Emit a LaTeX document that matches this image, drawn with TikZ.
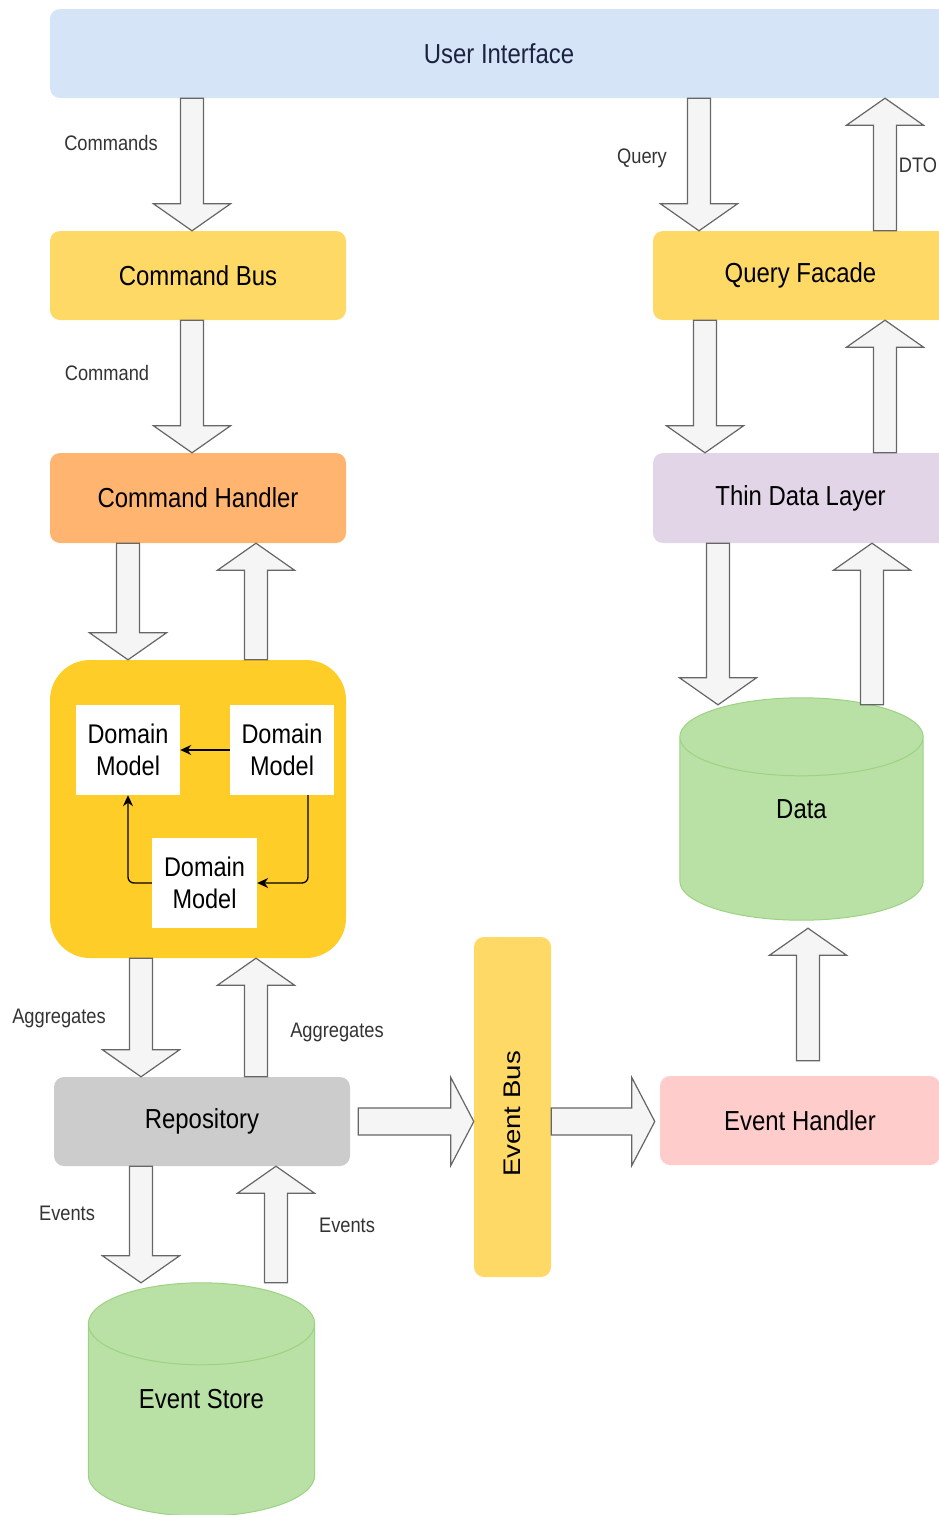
\documentclass[tikz,border=0pt]{standalone}
\usepackage{fontspec}
\setmainfont{Liberation Sans}[FakeStretch=0.87]
\newfontfamily\busfont{Liberation Sans}[FakeStretch=1.15]
\usepackage{graphicx}
\usepackage{tikz}
\usetikzlibrary{arrows.meta,calc,backgrounds}

\definecolor{uiblue}{HTML}{D6E4F7}
\definecolor{uitext}{HTML}{1C2340}
\definecolor{busyellow}{HTML}{FFD966}
\definecolor{handlerorange}{HTML}{FFB570}
\definecolor{layerpurple}{HTML}{E1D5E7}
\definecolor{domainyellow}{HTML}{FFCD28}
\definecolor{repogray}{HTML}{CCCCCC}
\definecolor{eventpink}{HTML}{FFCCCC}
\definecolor{dbgreen}{HTML}{B9E0A5}
\definecolor{dbline}{HTML}{9CD382}
\definecolor{fatfill}{HTML}{F5F5F5}
\definecolor{fatline}{HTML}{666666}
\definecolor{labelgray}{HTML}{333333}

\tikzset{
  box/.style={rounded corners=10pt, inner sep=0pt, font=\fontsize{27.5}{33}\selectfont},
  model/.style={fill=white, minimum width=104pt, minimum height=90pt, align=center, inner sep=0pt, font=\fontsize{27}{32}\selectfont},
  lbl/.style={text=labelgray, font=\fontsize{21}{25}\selectfont},
  fat/.style={draw=fatline, fill=fatfill, line width=1.2pt, line join=miter},
  thinarr/.style={draw=black, line width=1.3pt, rounded corners=6pt, -{Stealth[length=11pt,width=10pt]}},
  db/.style={draw=dbline, fill=dbgreen, line width=1pt}
}

% block arrows, vertical and horizontal
\newcommand{\vfat}[2]{%
  \draw[fat] let \p1=(#1), \p2=(#2), \n1={(\y2-\y1)/abs(\y2-\y1)} in
    ({\x1-11.5pt},\y1) -- ({\x1-11.5pt},{\y2-(\n1)*27pt}) -- ({\x1-38.5pt},{\y2-(\n1)*27pt})
    -- (\x1,\y2) -- ({\x1+38.5pt},{\y2-(\n1)*27pt}) -- ({\x1+11.5pt},{\y2-(\n1)*27pt})
    -- ({\x1+11.5pt},\y1) -- cycle;}
\newcommand{\hfat}[2]{%
  \draw[fat] let \p1=(#1), \p2=(#2), \n1={(\x2-\x1)/abs(\x2-\x1)} in
    (\x1,{\y1+13.5pt}) -- ({\x2-(\n1)*23pt},{\y1+13.5pt}) -- ({\x2-(\n1)*23pt},{\y1+44pt})
    -- (\x2,\y1) -- ({\x2-(\n1)*23pt},{\y1-44pt}) -- ({\x2-(\n1)*23pt},{\y1-13.5pt})
    -- (\x1,{\y1-13.5pt}) -- cycle;}
% cylinder drawn on a node
\newcommand{\dbshape}[2]{%
  \draw[db] let \p1=(#1.north west), \p2=(#1.south east), \n1={(\x2-\x1)/2} in
    (\x1,{\y1-#2}) -- (\x1,{\y2+#2})
    arc[start angle=180, end angle=360, x radius={\n1*1pt}, y radius=#2]
    -- (\x2,{\y1-#2})
    arc[start angle=0, end angle=180, x radius={\n1*1pt}, y radius=#2] -- cycle
    (\x1,{\y1-#2}) arc[start angle=180, end angle=360, x radius={\n1*1pt}, y radius=#2];}

\begin{document}
\begin{tikzpicture}[x=1pt, y=-1pt]
  \useasboundingbox (0,0) rectangle (938,1515);

  % boxes
  \node[box, fill=uiblue, text=uitext, minimum width=898pt, minimum height=89pt] (ui) at (499,53.5) {User Interface};
  \node[box, fill=busyellow, minimum width=296pt, minimum height=89pt] (cbus) at (198,275.5) {Command Bus};
  \node[box, fill=busyellow, minimum width=295pt, minimum height=89pt] (qf) at (800.5,275.5) {Query Facade};
  \node[box, fill=handlerorange, minimum width=296pt, minimum height=90pt] (ch) at (198,498) {Command Handler};
  \node[box, fill=layerpurple, minimum width=295pt, minimum height=90pt] (tdl) at (800.5,498) {Thin Data Layer};
  \node[box, fill=domainyellow, rounded corners=40pt, minimum width=296pt, minimum height=298pt] (dom) at (198,809) {};
  \node[model] (dm1) at (128,750) {Domain\\Model};
  \node[model] (dm2) at (282,750) {Domain\\Model};
  \node[model, minimum width=105pt] (dm3) at (204.5,883) {Domain\\Model};
  \node[box, fill=repogray, minimum width=296pt, minimum height=89pt] (repo) at (202,1121.5) {Repository};
  \node[box, fill=busyellow, minimum width=77pt, minimum height=340pt] (ebus) at (512.5,1107) {\rotatebox{90}{\busfont\fontsize{24}{28}\selectfont Event Bus\hspace{14pt}}};
  \node[box, fill=eventpink, minimum width=280pt, minimum height=89pt] (eh) at (800,1120.5) {Event Handler};
  \node[box, rounded corners=0pt, minimum width=243pt, minimum height=222pt] (data) at (801.5,809) {Data};
  \node[box, rounded corners=0pt, minimum width=226pt, minimum height=233pt] (es) at (201.5,1399.5) {Event Store};

  \begin{scope}[on background layer]
    \dbshape{data}{39pt}
    \dbshape{es}{41pt}
  \end{scope}

  % arrow columns
  \coordinate (colcmd) at (192,0);
  \coordinate (colqry) at (699,0);
  \coordinate (coldto) at (885,0);
  \coordinate (colqfd) at (705,0);
  \coordinate (coldn) at (128,0);
  \coordinate (colup) at (256,0);
  \coordinate (coldbd) at (718,0);
  \coordinate (coldbu) at (872,0);
  \coordinate (colagg) at (141,0);
  \coordinate (colevt) at (276,0);
  \coordinate (colehd) at (808,0);

  \vfat{ui.south -| colcmd}{cbus.north -| colcmd}
  \vfat{ui.south -| colqry}{qf.north -| colqry}
  \vfat{qf.north -| coldto}{ui.south -| coldto}
  \vfat{cbus.south -| colcmd}{ch.north -| colcmd}
  \vfat{qf.south -| colqfd}{tdl.north -| colqfd}
  \vfat{tdl.north -| coldto}{qf.south -| coldto}
  \vfat{ch.south -| coldn}{dom.north -| coldn}
  \vfat{dom.north -| colup}{ch.south -| colup}
  \vfat{tdl.south -| coldbd}{$(data.north -| coldbd)+(0,7)$}
  \vfat{$(data.north -| coldbu)+(0,7)$}{tdl.south -| coldbu}
  \vfat{dom.south -| colagg}{repo.north -| colagg}
  \vfat{repo.north -| colup}{dom.south -| colup}
  \vfat{repo.south -| colagg}{es.north -| colagg}
  \vfat{es.north -| colevt}{repo.south -| colevt}
  \vfat{$(eh.north -| colehd)+(0,-15)$}{$(data.south -| colehd)+(0,8)$}
  \hfat{$(repo.east)+(8,0)$}{ebus.west |- repo.east}
  \hfat{ebus.east |- repo.east}{$(eh.west |- repo.east)+(-5,0)$}

  % links between domain models
  \draw[thinarr] (dm2.west) -- (dm1.east);
  \draw[thinarr] ($(dm2.south)+(26,0)$) |- (dm3.east);
  \draw[thinarr] (dm3.west) -| (dm1.south);

  % labels
  \node[lbl] (lcmds) at (111,143) {Commands};
  \node[lbl] (lqry) at (642,158) {Query};
  \node[lbl] (ldto) at (918,165) {DTO};
  \node[lbl] (lcmd) at (107,373) {Command};
  \node[lbl] (lagg1) at (59,1018) {Aggregates};
  \node[lbl] (lagg2) at (337,1032) {Aggregates};
  \node[lbl] (levt1) at (67,1213) {Events};
  \node[lbl] (levt2) at (347,1225) {Events};
\end{tikzpicture}
\end{document}
